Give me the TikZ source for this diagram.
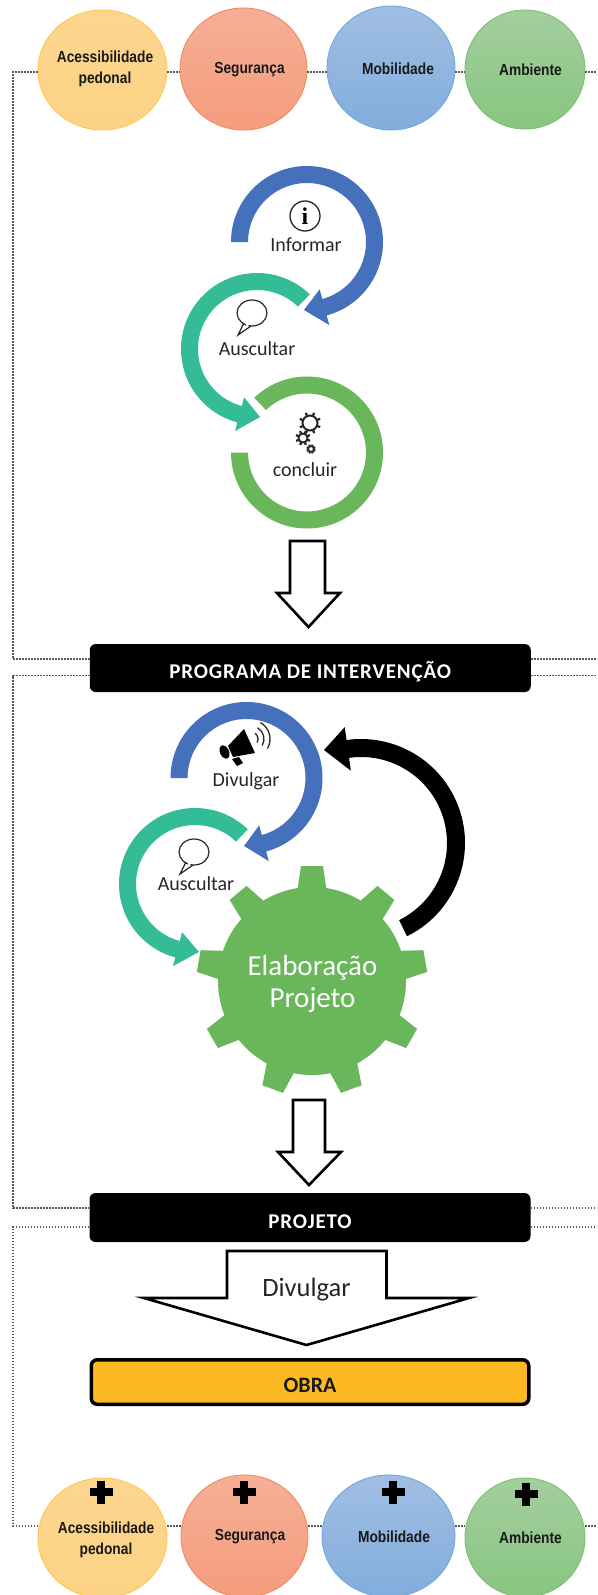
\documentclass[tikz,border=0pt]{standalone}
\usepackage{fontspec}
\setmainfont{Carlito}
\newfontfamily\arialf[FakeStretch=0.86]{Liberation Sans}
\newfontfamily\serifb{Liberation Serif}
\usetikzlibrary{shapes.geometric,calc}
\definecolor{cblue}{HTML}{4571BC}
\definecolor{cteal}{HTML}{33BC96}
\definecolor{cgreen}{HTML}{6AB65A}
\definecolor{cobra}{HTML}{FDB924}
\definecolor{yt}{HTML}{FCD58F}\definecolor{yb}{HTML}{FCD385}\definecolor{yd}{HTML}{FFC94A}
\definecolor{rt}{HTML}{F5AF96}\definecolor{rb}{HTML}{F59C7C}\definecolor{rd}{HTML}{F0895E}
\definecolor{bt}{HTML}{A0BEE3}\definecolor{bb}{HTML}{82ADDC}\definecolor{bd}{HTML}{6FA8DC}
\definecolor{gt}{HTML}{A3CE9E}\definecolor{gb}{HTML}{88C680}\definecolor{gd}{HTML}{7CBF70}
\newcommand{\ringarrow}[9]{%
 \fill[#9] ([shift={(#3:#6)}]#1,#2) arc[start angle=#3,end angle=#4,radius=#6]
  -- ([shift={(#4:#8)}]#1,#2) -- ([shift={(#7)}]#1,#2) -- ([shift={(#4:#5-#8+#6)}]#1,#2)
  -- ([shift={(#4:#5)}]#1,#2) arc[start angle=#4,end angle=#3,radius=#5] -- cycle;}
\newcommand{\cogicon}[5]{%
 \draw[iconline,line width=#4] (#1,#2) circle[radius=#3];
 \foreach \ca in {0,45,...,315}{\draw[iconline,line width=2.2pt] ([shift={(\ca+22:#3)}]#1,#2) -- ([shift={(\ca+22:#3+#5)}]#1,#2);}}
\newcommand{\speech}[2]{%
 \draw[iconline,line width=1.2pt,fill=white] (#1-8,#2+10) -- (#1-14,#2+22) -- (#1-1,#2+13);
 \draw[iconline,line width=1.2pt] (#1,#2) ellipse[x radius=15,y radius=13];
 \fill[white] (#1-7,#2+9) -- (#1-2,#2+10.5) -- (#1-5,#2+14) -- cycle;}
\newcommand{\plussign}[2]{%
 \fill[black] (#1-3.8,#2-11.5) rectangle (#1+3.8,#2+11.5);
 \fill[black] (#1-11.5,#2-3.8) rectangle (#1+11.5,#2+3.8);}
\newcommand{\lowtext}[1]{\raisebox{-5.5pt}[14pt][4pt]{#1}}
\tikzset{
 iconline/.style={draw=black!85,line width=1pt},
 dotline/.style={draw=black!65,line width=1.8pt,dash pattern=on 1.6pt off 1.4pt},
 themec/.style={ellipse,inner sep=0pt,line width=0.9pt},
 themey/.style={themec,draw=yd,top color=yt,bottom color=yb},
 themer/.style={themec,draw=rd,top color=rt,bottom color=rb},
 themeb/.style={themec,draw=bd,top color=bt,bottom color=bb},
 themeg/.style={themec,draw=gd,top color=gt,bottom color=gb},
 themel/.style={inner sep=0pt,font=\arialf\bfseries\fontsize{16}{21.5}\selectfont,align=center,text=black!90},
 bar/.style={rectangle,rounded corners=6pt,fill=black,text=white,minimum width=441pt,minimum height=48pt,inner sep=0pt,font=\bfseries\fontsize{21}{24}\selectfont\addfontfeature{LetterSpace=4}},
 iconcap/.style={font=\fontsize{20}{23}\selectfont,text=black!85,inner sep=0pt},
 whitearrow/.style={draw=black,fill=white,line width=2.6pt,line join=miter},
}
\begin{document}
\begin{tikzpicture}[x=1pt,y=1pt,yscale=-1]
\useasboundingbox (0,0) rectangle (597,1595);
\fill[white] (0,0) rectangle (597,1595);
\clip (0,0) rectangle (597,1595);
% top circles
\node[themey,minimum width=129pt,minimum height=120pt] (t1) at (102.5,70) {};
\node[themer,minimum width=127pt,minimum height=122pt] (t2) at (243.5,69) {};
\node[themeb,minimum width=128pt,minimum height=124pt] (t3) at (391,68) {};
\node[themeg,minimum width=120pt,minimum height=119pt] (t4) at (525,69.5) {};
\node[themel] (tl1) at (105,69) {Acessibilidade\\pedonal};
\node[themel] (tl2) at (249.5,70) {Segurança};
\node[themel] (tl3) at (398,69) {Mobilidade};
\node[themel] (tl4) at (530.5,70) {Ambiente};
% bars
\node[bar] (bar1) at (310.25,668) {\lowtext{PROGRAMA DE INTERVENÇÃO}};
\node[bar,minimum height=49pt] (bar2) at (310,1217.5) {\lowtext{PROJETO}};
\node[bar,fill=cobra,draw=black,line width=3.5pt,minimum width=437.5pt,minimum height=44.5pt,text=black!90,font=\bfseries\fontsize{22}{24}\selectfont] (obra) at (310,1382) {\lowtext{OBRA}};
% bottom circles
\node[themey,minimum width=129pt,minimum height=120pt] (b1) at (102.5,1538) {};
\node[themer,minimum width=127pt,minimum height=122pt] (b2) at (244.5,1536) {};
\node[themeb,minimum width=133pt,minimum height=122pt] (b3) at (388.5,1536) {};
\node[themeg,minimum width=120pt,minimum height=119pt] (b4) at (525,1537.5) {};
\node[themel] (bl1) at (106,1540) {Acessibilidade\\pedonal};
\node[themel] (bl2) at (250,1537) {Segurança};
\node[themel] (bl3) at (394,1537) {Mobilidade};
\node[themel] (bl4) at (530.5,1538) {Ambiente};
\plussign{101}{1492}\plussign{244}{1492}\plussign{393}{1492}\plussign{526}{1494}
% dotted frame
\coordinate (ytop) at (0,72);
\coordinate (ya) at (0,659);
\coordinate (yb) at (0,675.5);
\coordinate (yc) at (0,1208);
\coordinate (yd) at (0,1227);
\coordinate (ye) at (0,1526);
\coordinate (xl) at (13,0);
\coordinate (xr) at (597,0);
\draw[dotline] (t1.west |- ytop) -- (xl |- ytop) -- (xl |- ya) -- (bar1.west |- ya);
\draw[dotline] (t1.east |- ytop) -- (t2.west |- ytop);
\draw[dotline] (t2.east |- ytop) -- (t3.west |- ytop);
\draw[dotline] (t3.east |- ytop) -- (t4.west |- ytop);
\draw[dotline] (t4.east |- ytop) -- (xr |- ytop);
\draw[dotline] (bar1.east |- ya) -- (xr |- ya);
\draw[dotline] (bar1.east |- yb) -- (xr |- yb);
\draw[dotline] (bar1.west |- yb) -- (xl |- yb) -- (xl |- yc) -- (bar2.west |- yc);
\draw[dotline] (bar2.east |- yc) -- (xr |- yc);
\draw[dotline] (bar2.east |- yd) -- (xr |- yd);
\draw[dotline] (bar2.west |- yd) -- (xl |- yd) -- (xl |- ye) -- (b1.west |- ye);
\draw[dotline] (b1.east |- ye) -- (b2.west |- ye);
\draw[dotline] (b2.east |- ye) -- (b3.west |- ye);
\draw[dotline] (b3.east |- ye) -- (b4.west |- ye);
\draw[dotline] (b4.east |- ye) -- (xr |- ye);
% first cycle
\ringarrow{307}{242}{180}{435}{59}{76}{-3,68}{86}{cblue}
\ringarrow{257}{349}{-46}{-255}{59}{76}{3,68}{85}{cteal}
\fill[cgreen] ([shift={(180:76)}]307,452.5) arc[start angle=180,end angle=-134,radius=76]
  -- ([shift={(-134:59)}]307,452.5) arc[start angle=-134,end angle=180,radius=59] -- cycle;
% info icon
\draw[black!85,line width=1.3pt] (305,216) circle[radius=15];
\node[inner sep=0pt,font=\serifb\bfseries\fontsize{24}{24}\selectfont,text=black] (infoi) at (305,216) {i};
\node[iconcap] (inf) at (306,245) {Informar};
\speech{252}{313}
\node[iconcap] (aus1) at (257,349) {Auscultar};
\cogicon{310}{423}{7.5}{2pt}{3.5}\cogicon{303}{438}{4.5}{1.8pt}{3}\cogicon{311}{449}{2.6}{1.3pt}{2}
\node[iconcap] (con) at (305,470) {concluir};
% white arrow 1
\draw[whitearrow] (290,541) -- (325,541) -- (325,593) -- (340,593) -- (308.5,627) -- (277,593) -- (290,593) -- cycle;
% second cycle
\ringarrow{246.5}{778}{180}{435}{59}{76}{-2.5,68}{86}{cblue}
\ringarrow{195}{884}{-46}{-255}{59}{76}{4,68}{85}{cteal}
\ringarrow{361}{843}{63.7}{-98}{86}{104}{-37,-93}{117}{black}
% gear
\fill[cgreen] (312,981) circle[radius=94];
\foreach \a in {-90,-50,-10,30,70,110,150,190,230}{
 \fill[cgreen,rotate around={\a:(312,981)}] (312+88,981-15) -- (312+115,981-11) -- (312+115,981+11) -- (312+88,981+15) -- cycle;}
\node[align=center,text=white,inner sep=0pt,font=\fontsize{29}{32}\selectfont] (elab) at (312.5,983.5) {Elaboração\\Projeto};
% megaphone
\fill[black] (228,746) -- (244,729) -- (255,753) -- (233,757) -- cycle;
\fill[black,rotate around={-25:(224.5,752)}] (224.5,752) ellipse[x radius=4.5,y radius=7];
\fill[black] (232,759) -- (239,757) -- (243,763) -- (237,766) -- cycle;
\draw[black!85,line width=1.3pt] ([shift={(-55:7)}]251,739) arc[start angle=-55,end angle=30,radius=7];
\draw[black!85,line width=1.3pt] ([shift={(-60:13)}]251,739) arc[start angle=-60,end angle=30,radius=13];
\draw[black!85,line width=1.3pt] ([shift={(-60:19)}]251,739) arc[start angle=-60,end angle=30,radius=19];
\node[iconcap] (div1) at (246,781) {Divulgar};
\speech{194}{852}
\node[iconcap] (aus2) at (196,884) {Auscultar};
% white arrow 2
\draw[whitearrow] (293,1100) -- (325,1100) -- (325,1152) -- (341,1152) -- (309,1185) -- (278,1152) -- (293,1152) -- cycle;
% Divulgar arrow
\draw[whitearrow] (227,1251) -- (386.5,1251) -- (386.5,1298) -- (469,1298) -- (306.5,1345) -- (144,1298) -- (227,1298) -- cycle;
\node[inner sep=0pt,font=\fontsize{26.5}{28}\selectfont,text=black!85] (div2) at (306.5,1290) {Divulgar};
\end{tikzpicture}
\end{document}
